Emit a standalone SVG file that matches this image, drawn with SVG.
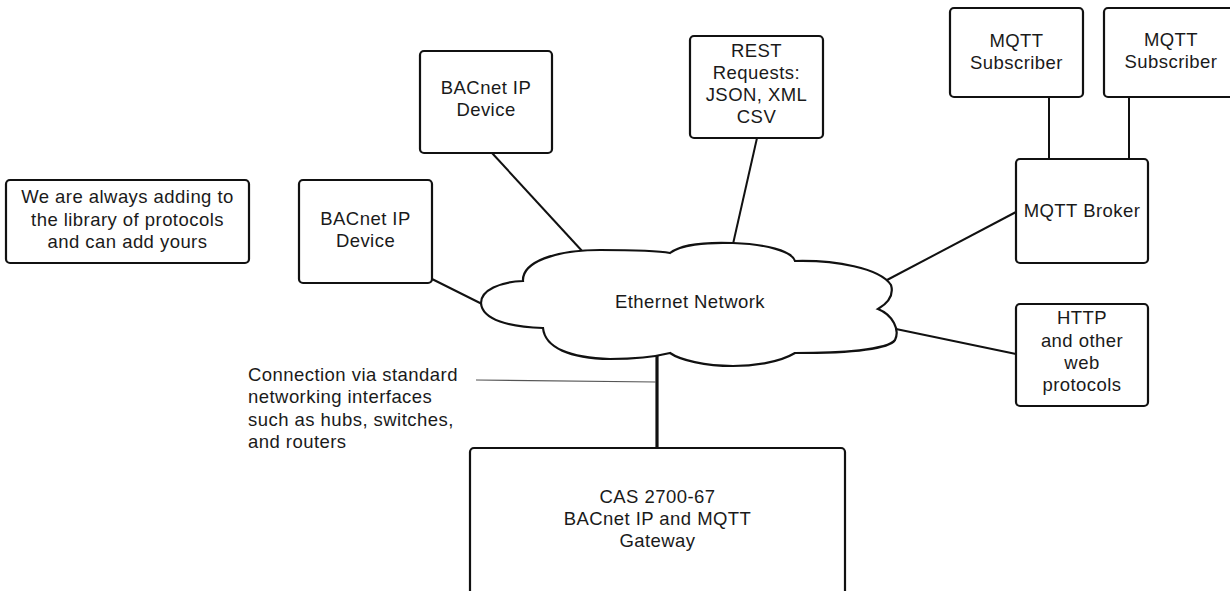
<svg xmlns="http://www.w3.org/2000/svg" width="1230" height="591" viewBox="0 0 1230 591">
<style>
.box{fill:#fff;stroke:#111;stroke-width:2.2}
.ln{fill:none;stroke:#111;stroke-width:2}
.thick{fill:none;stroke:#111;stroke-width:3.2}
.thin{fill:none;stroke:#555;stroke-width:1.2}
text{font-family:"Liberation Sans",Arial,sans-serif;font-size:18.5px;letter-spacing:0.45px;fill:#1a1a1a}
.c{text-anchor:middle}
</style>
<rect width="1230" height="591" fill="#fff"/>
<g id="connectors">
<line class="ln" x1="432" y1="279" x2="482" y2="304"/>
<line class="ln" x1="492" y1="153" x2="583" y2="252"/>
<line class="ln" x1="757" y1="138" x2="733" y2="244"/>
<line class="ln" x1="1049" y1="97" x2="1049" y2="159"/>
<line class="ln" x1="1129" y1="97" x2="1129" y2="159"/>
<line class="ln" x1="1016" y1="212" x2="887" y2="280"/>
<line class="ln" x1="896" y1="329" x2="1016" y2="354"/>
<line class="thick" x1="657" y1="353" x2="657" y2="448"/>
<line class="thin" x1="476" y1="380" x2="656" y2="382"/>
</g>
<g id="cloud">
<path class="box" d="M 523,281 C 522,262 555,250 600,250 C 630,250 655,250 670,253 C 680,245 705,242 733,243 C 765,244 792,251 795,261 C 835,260 880,268 891,285 C 894,295 888,303 878,309 C 893,315 900,330 895,340 C 888,350 840,353 795,353 C 780,362 755,366 733,366 C 705,366 680,360 670,353 C 650,358 630,359 610,359 C 570,358 545,348 543,328 C 510,327 482,320 481,303 C 481,290 500,282 523,281 Z"/>
<text class="c" x="690" y="308">Ethernet Network</text>
</g>
<g id="note-library">
<rect class="box" x="6" y="180" width="243" height="83" rx="4"/>
<text class="c" x="127.5" y="203">We are always adding to</text>
<text class="c" x="127.5" y="226">the library of protocols</text>
<text class="c" x="127.5" y="248">and can add yours</text>
</g>
<g id="bacnet-device-1">
<rect class="box" x="299" y="180" width="133" height="103" rx="4"/>
<text class="c" x="365.5" y="225">BACnet IP</text>
<text class="c" x="365.5" y="247">Device</text>
</g>
<g id="bacnet-device-2">
<rect class="box" x="420" y="51" width="132" height="102" rx="4"/>
<text class="c" x="486" y="94">BACnet IP</text>
<text class="c" x="486" y="116">Device</text>
</g>
<g id="rest">
<rect class="box" x="690" y="36" width="133" height="102" rx="4"/>
<text class="c" x="756.5" y="57">REST</text>
<text class="c" x="756.5" y="79">Requests:</text>
<text class="c" x="756.5" y="101">JSON, XML</text>
<text class="c" x="756.5" y="123">CSV</text>
</g>
<g id="mqtt-subscriber-1">
<rect class="box" x="950" y="8" width="133" height="89" rx="4"/>
<text class="c" x="1016.5" y="47">MQTT</text>
<text class="c" x="1016.5" y="69">Subscriber</text>
</g>
<g id="mqtt-subscriber-2">
<rect class="box" x="1104" y="8" width="134" height="89" rx="4"/>
<text class="c" x="1171" y="46">MQTT</text>
<text class="c" x="1171" y="68">Subscriber</text>
</g>
<g id="mqtt-broker">
<rect class="box" x="1016" y="159" width="132" height="104" rx="4"/>
<text class="c" x="1082" y="217">MQTT Broker</text>
</g>
<g id="http">
<rect class="box" x="1016" y="304" width="132" height="102" rx="4"/>
<text class="c" x="1082" y="324">HTTP</text>
<text class="c" x="1082" y="347">and other</text>
<text class="c" x="1082" y="369">web</text>
<text class="c" x="1082" y="391">protocols</text>
</g>
<g id="gateway">
<rect class="box" x="470" y="448" width="375" height="150" rx="4"/>
<text class="c" x="657.5" y="503">CAS 2700-67</text>
<text class="c" x="657.5" y="525">BACnet IP and MQTT</text>
<text class="c" x="657.5" y="547">Gateway</text>
</g>
<g id="annotation">
<text x="248" y="381">Connection via standard</text>
<text x="248" y="403">networking interfaces</text>
<text x="248" y="426">such as hubs, switches,</text>
<text x="248" y="448">and routers</text>
</g>
</svg>
